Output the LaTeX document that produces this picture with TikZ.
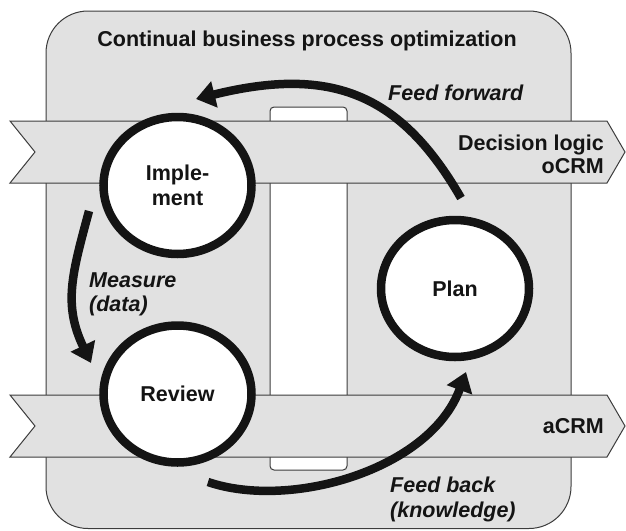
\documentclass[tikz,border=0pt]{standalone}
\usepackage{fontspec}
\setmainfont{Liberation Sans}
\usetikzlibrary{shapes.geometric,arrows.meta}
\definecolor{bg}{HTML}{E1E1E1}
\definecolor{edge}{HTML}{3C3C3C}
\definecolor{ink}{HTML}{141414}
\begin{document}
\begin{tikzpicture}[x=1pt,y=-1pt,
  txt/.style={font=\fontsize{21.5}{25}\selectfont\bfseries, text=ink, inner sep=0pt},
  itxt/.style={txt, font=\fontsize{21.5}{25}\selectfont\bfseries\itshape},
  stage/.style={ellipse, draw=ink, line width=8.5pt, fill=white, minimum width=148pt, minimum height=137pt, align=center, txt},
  flow/.style={draw=ink, line width=8.5pt, -{Triangle[length=19pt,width=26pt]}},
  banner/.style={draw=edge, line width=1pt, fill=bg},
]
\useasboundingbox (0,0) rectangle (626,530);
% frame
\path[draw=edge, line width=1pt, fill=bg, rounded corners=42pt] (46,11) rectangle (571,528.5);
% white column
\path[draw=edge, line width=1pt, fill=white, rounded corners=4pt] (270,107) rectangle (347,470);
% banners
\path[banner] (10,121) -- (607,121) -- (625,152) -- (607,183) -- (10,183) -- (35,152) -- cycle;
\path[banner] (10,395) -- (607,395) -- (625,426) -- (607,457) -- (10,457) -- (35,426) -- cycle;
% stages
\node[stage] (impl) at (177.5,185.5) {Imple-\\ment};
\node[stage] (review) at (177.5,394) {Review};
\node[stage] (plan) at (455,288.5) {Plan};
% flows
\draw[flow] ([shift={(6,-90.5)}]plan.center) .. controls (401,94) and (331.8,65.4) .. ([shift={(18.5,-86.5)}]impl.center);
\draw[flow] ([shift={(-88.5,25.5)}]impl.center) .. controls (72,274) and (63,304.5) .. ([shift={(-86.5,-31)}]review.center);
\draw[flow] ([shift={(30.5,88)}]review.center) .. controls (290,510) and (430,470) .. ([shift={(11,83.5)}]plan.center);
% labels
\node[txt, anchor=base] (title) at (307,46) {Continual business process optimization};
\node[itxt, anchor=base west] (ff) at (388,100) {Feed forward};
\node[txt, anchor=base east] (dl) at (604,150) {Decision logic};
\node[txt, anchor=base east] (ocrm) at (604,173) {oCRM};
\node[txt, anchor=base east] (acrm) at (604,433) {aCRM};
\node[itxt, anchor=base west] (meas) at (89,287) {Measure};
\node[itxt, anchor=base west] (data) at (89,311) {(data)};
\node[itxt, anchor=base west] (fb) at (390,492) {Feed back};
\node[itxt, anchor=base west] (know) at (390,517) {(knowledge)};
\end{tikzpicture}
\end{document}
